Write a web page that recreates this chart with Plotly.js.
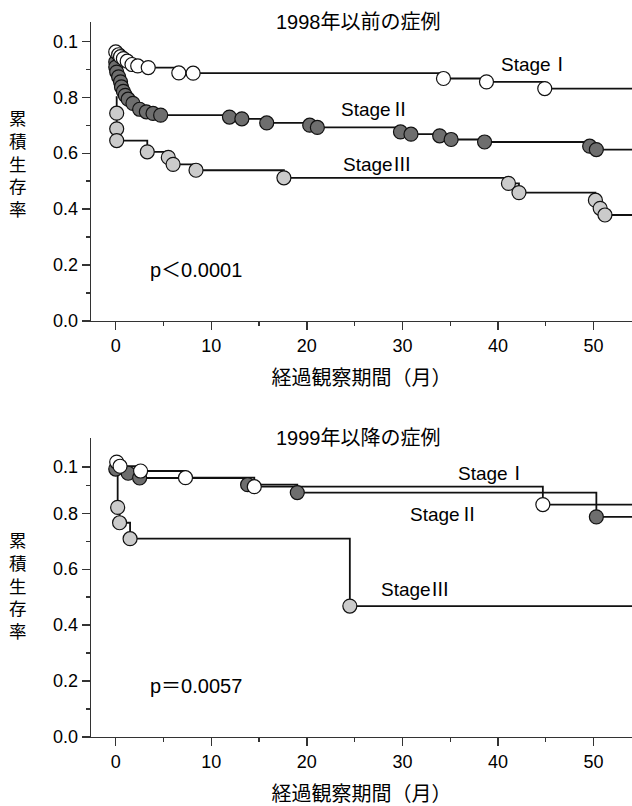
<!DOCTYPE html>
<html>
<head>
<meta charset="utf-8">
<script src="https://cdn.plot.ly/plotly-3.0.1.min.js"></script>
<style>html,body{margin:0;padding:0;background:#fff;}#chart{width:632px;height:806px;}</style>
</head>
<body>
<div id="chart"></div>
<script>
// ---------- data: 1998年以前の症例 (top panel) ----------
const stageNames = ['StageⅠ', 'StageⅡ', 'StageⅢ'];

const pre_s1_start = 0.962;
const pre_s1_t = [0.0, 0.3, 0.5, 0.8, 1.2, 1.7, 2.3, 3.4, 6.6, 8.1, 34.3, 38.8, 44.9];
const pre_s1_s = [0.962, 0.952, 0.945, 0.938, 0.929, 0.917, 0.912, 0.906, 0.887, 0.886, 0.867, 0.855, 0.831];

const pre_s2_start = 0.926;
const pre_s2_t = [0.0, 0.0, 0.1, 0.3, 0.5, 0.6, 0.8, 1.0, 1.3, 1.8, 2.5, 3.2, 3.9, 4.7, 11.9, 13.2, 15.8, 20.3, 21.1, 29.8, 30.9, 33.9, 35.1, 38.6, 49.6, 50.3];
const pre_s2_s = [0.926, 0.908, 0.890, 0.873, 0.855, 0.837, 0.821, 0.807, 0.793, 0.778, 0.757, 0.748, 0.742, 0.736, 0.729, 0.723, 0.708, 0.700, 0.692, 0.676, 0.668, 0.662, 0.649, 0.640, 0.625, 0.613];

const pre_s3_start = 0.80;
const pre_s3_t = [0.1, 0.1, 0.1, 3.3, 5.5, 6.0, 8.4, 17.6, 41.1, 42.2, 50.2, 50.7, 51.2];
const pre_s3_s = [0.743, 0.687, 0.645, 0.605, 0.585, 0.560, 0.539, 0.512, 0.492, 0.459, 0.432, 0.403, 0.379];

// ---------- data: 1999年以降の症例 (bottom panel) ----------
const post_s1_start = 0.983;
const post_s1_t = [0.1, 0.45, 2.6, 7.3, 14.5, 44.7];
const post_s1_s = [0.983, 0.968, 0.951, 0.927, 0.895, 0.831];

const post_s2_start = 0.958;
const post_s2_t = [0.0, 1.3, 2.5, 13.8, 19.0, 50.3];
const post_s2_s = [0.958, 0.943, 0.926, 0.902, 0.874, 0.787];

const post_s3_start = 0.96;
const post_s3_t = [0.2, 0.4, 1.5, 24.5];
const post_s3_s = [0.821, 0.766, 0.709, 0.468];

const followEnd = 56;

// tick labels
const xTickVals = [0, 10, 20, 30, 40, 50];
const xMinorVals = [5, 15, 25, 35, 45];
const yTickValsTop = [0, 0.2, 0.4, 0.6, 0.8, 1.0];
const yTickValsBottom = [0, 0.2, 0.4, 0.6, 0.8, 0.965];
const yTickText = ['0.0', '0.2', '0.4', '0.6', '0.8', '0.1'];
const yMinorVals = [0.1, 0.3, 0.5, 0.7, 0.9];

const pTextTop = 'p＜0.0001';
const pTextBottom = 'p＝0.0057';

// ---------- styles ----------
const FONT = 'Liberation Sans, Arial, Noto Sans CJK JP, sans-serif';
const CJK = 'Noto Sans CJK JP';
const fills = ['#ffffff', '#6e6e6e', '#cbcbcb'];

// render roman numerals with the CJK font (same text content)
function stageLabel(name) {
  return name.replace(/([Ⅰ-Ⅻ])/g, '<span style="font-family:' + CJK + '">$1</span>');
}

function stepLine(start, t, s, xa, ya) {
  return {
    x: [0].concat(t, [followEnd]),
    y: [start].concat(s, [s[s.length - 1]]),
    xaxis: xa, yaxis: ya,
    mode: 'lines', line: {shape: 'hv', color: '#111', width: 1.8},
    hoverinfo: 'skip', showlegend: false
  };
}
function marks(t, s, i, xa, ya) {
  return {
    x: t, y: s, xaxis: xa, yaxis: ya, name: stageNames[i],
    mode: 'markers',
    marker: {size: 14, color: fills[i], line: {color: '#111', width: 1.2}},
    showlegend: false, cliponaxis: false
  };
}

const traces = [
  stepLine(pre_s3_start, pre_s3_t, pre_s3_s, 'x', 'y'),
  stepLine(pre_s2_start, pre_s2_t, pre_s2_s, 'x', 'y'),
  stepLine(pre_s1_start, pre_s1_t, pre_s1_s, 'x', 'y'),
  stepLine(post_s3_start, post_s3_t, post_s3_s, 'x2', 'y2'),
  stepLine(post_s2_start, post_s2_t, post_s2_s, 'x2', 'y2'),
  stepLine(post_s1_start, post_s1_t, post_s1_s, 'x2', 'y2'),
  marks(pre_s3_t, pre_s3_s, 2, 'x', 'y'),
  marks(pre_s2_t, pre_s2_s, 1, 'x', 'y'),
  marks(pre_s1_t, pre_s1_s, 0, 'x', 'y'),
  marks(post_s3_t, post_s3_s, 2, 'x2', 'y2'),
  marks(post_s2_t, post_s2_s, 1, 'x2', 'y2'),
  marks(post_s1_t, post_s1_s, 0, 'x2', 'y2')
];

function xAxis(anchor) {
  return {
    anchor: anchor, domain: [0, 1], range: [-2.59, 54.03],
    showline: true, linecolor: '#333', linewidth: 1.3,
    ticks: 'outside', ticklen: 8, tickwidth: 1.3, tickcolor: '#333',
    tickmode: 'array', tickvals: xTickVals,
    minor: {tickmode: 'array', tickvals: xMinorVals, ticks: 'outside', ticklen: 4, tickwidth: 1.3, tickcolor: '#333'},
    showgrid: false, zeroline: false,
    tickfont: {family: FONT, size: 18, color: '#000'},
    title: {text: '経過観察期間（月）', font: {family: FONT, size: 20, color: '#000'}, standoff: 16}
  };
}
function yAxis(anchor, domain, tv) {
  return {
    anchor: anchor, domain: domain, range: [0, 1.07],
    showline: true, linecolor: '#333', linewidth: 1.3,
    ticks: 'outside', ticklen: 8, tickwidth: 1.3, tickcolor: '#333',
    tickmode: 'array', tickvals: tv, ticktext: yTickText,
    minor: {tickmode: 'array', tickvals: yMinorVals, ticks: 'outside', ticklen: 4, tickwidth: 1.3, tickcolor: '#333'},
    showgrid: false, zeroline: false,
    tickfont: {family: FONT, size: 18, color: '#000'}
  };
}

function txt(text, x, y, xref, yref, size, xanchor) {
  return {text: text, x: x, y: y, xref: xref, yref: yref, showarrow: false,
    xanchor: xanchor || 'center', yanchor: 'middle',
    font: {family: FONT, size: size, color: '#000'}};
}

const yTitle = '累<br>積<br>生<br>存<br>率';

const layout = {
  width: 632, height: 806,
  margin: {l: 91, r: 0, t: 21, b: 69},
  paper_bgcolor: '#fff', plot_bgcolor: '#fff',
  font: {family: FONT, color: '#000'},
  showlegend: false,
  xaxis: xAxis('y'),
  yaxis: yAxis('x', [0.581, 0.999], yTickValsTop),
  xaxis2: xAxis('y2'),
  yaxis2: yAxis('x2', [0, 0.418], yTickValsBottom),
  annotations: [
    txt('1998年以前の症例', 0.495, 0.998, 'paper', 'paper', 20),
    txt('1999年以降の症例', 0.495, 0.418, 'paper', 'paper', 20),
    txt(yTitle, -0.135, 0.80, 'paper', 'paper', 17.5),
    txt(yTitle, -0.135, 0.21, 'paper', 'paper', 17.5),
    txt(stageLabel(stageNames[0]), 43.9, 0.925, 'x', 'y', 19),
    txt(stageLabel(stageNames[1]), 27.2, 0.764, 'x', 'y', 19),
    txt(stageLabel(stageNames[2]), 27.4, 0.568, 'x', 'y', 19),
    txt(stageLabel(stageNames[0]), 39.4, 0.95, 'x2', 'y2', 19),
    txt(stageLabel(stageNames[1]), 34.4, 0.804, 'x2', 'y2', 19),
    txt(stageLabel(stageNames[2]), 31.4, 0.536, 'x2', 'y2', 19),
    txt(pTextTop, 3.4, 0.182, 'x', 'y', 20, 'left'),
    txt(pTextBottom, 3.4, 0.182, 'x2', 'y2', 20, 'left')
  ]
};

Plotly.newPlot('chart', traces, layout, {staticPlot: true, displayModeBar: false});
</script>
</body>
</html>
